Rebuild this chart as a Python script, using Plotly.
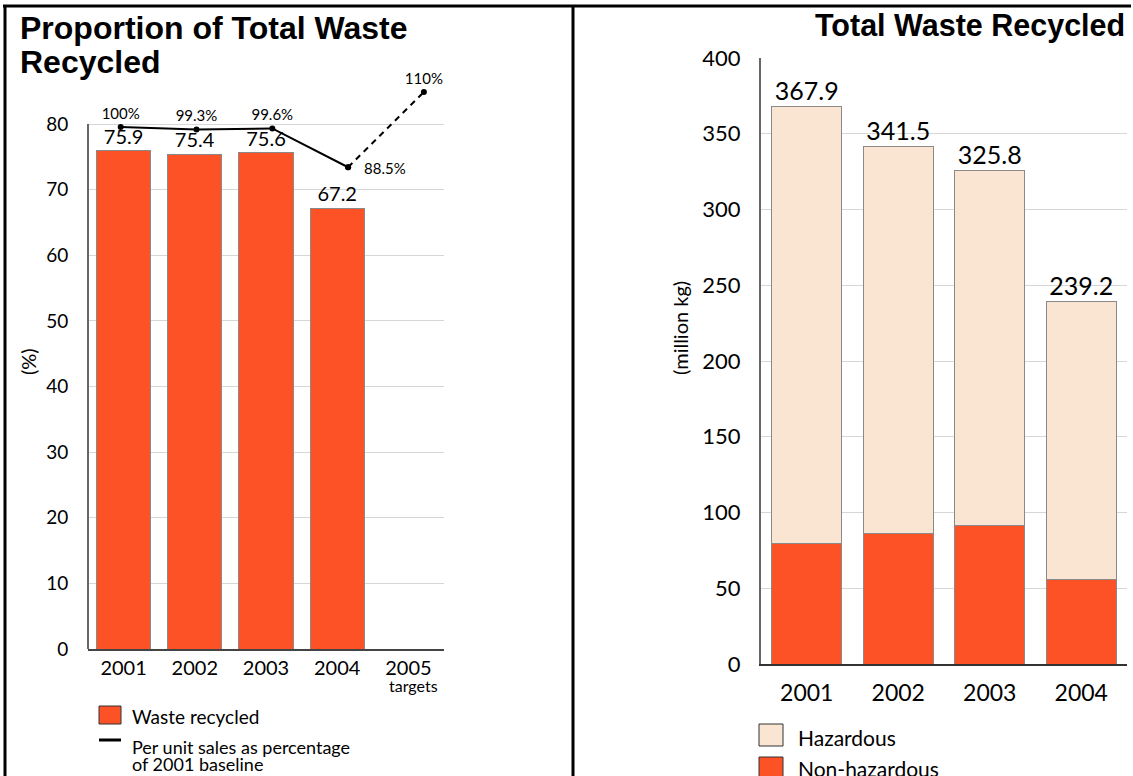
import plotly.graph_objects as go

W, H = 1133, 776

# ---------------- data ----------------
left_years = ["2001", "2002", "2003", "2004", "2005"]
waste_recycled_pct = [75.9, 75.4, 75.6, 67.2, None]
line_years = [2001, 2002, 2003, 2004, 2005]
per_unit_sales_pct = [100, 99.3, 99.6, 88.5, 110]
per_unit_labels = ["100%", "99.3%", "99.6%", "88.5%", "110%"]
target_note = "targets"

right_years = ["2001", "2002", "2003", "2004"]
non_hazardous = [79.7, 86.1, 91.3, 55.6]
hazardous = [288.2, 255.4, 234.5, 183.6]

# ---------------- style ----------------
ORANGE = "#FD5126"
PEACH = "#FAE5D3"
OUTLINE = "#8a8a8a"
GRID = "#d6d6d6"
FONT = "Lato"
TITLE_FONT = "Liberation Sans"


def px(x):
    return x / W


def py(y):
    return 1 - y / H


fig = go.Figure()

# ----- left chart -----
fig.add_trace(go.Bar(
    x=left_years, y=waste_recycled_pct, xaxis="x", yaxis="y",
    marker=dict(color=ORANGE, line=dict(color=OUTLINE, width=1)),
    text=[f"{v:.1f}" if v is not None else "" for v in waste_recycled_pct],
    textposition="outside", cliponaxis=False, constraintext="none",
    textfont=dict(family=FONT, size=20, color="black"),
    showlegend=False, hoverinfo="skip",
))

label_pos = ["top center", "top center", "top center", None, "top center"]
fig.add_trace(go.Scatter(
    x=line_years[:4], y=per_unit_sales_pct[:4], xaxis="x3", yaxis="y3",
    mode="lines+markers+text",
    line=dict(color="black", width=2),
    marker=dict(color="black", size=6),
    text=per_unit_labels[:3] + [""],
    textposition="top center",
    textfont=dict(family=FONT, size=15, color="black"),
    cliponaxis=False, showlegend=False, hoverinfo="skip",
))
fig.add_trace(go.Scatter(
    x=line_years[3:], y=per_unit_sales_pct[3:], xaxis="x3", yaxis="y3",
    mode="lines+markers+text",
    line=dict(color="black", width=2, dash="6px,5px"),
    marker=dict(color="black", size=6),
    text=["", per_unit_labels[4]],
    textposition="top center",
    textfont=dict(family=FONT, size=15, color="black"),
    cliponaxis=False, showlegend=False, hoverinfo="skip",
))

# ----- right chart -----
fig.add_trace(go.Bar(
    x=right_years, y=non_hazardous, xaxis="x2", yaxis="y2", name="Non-hazardous",
    marker=dict(color=ORANGE, line=dict(color=OUTLINE, width=1)),
    showlegend=False, hoverinfo="skip",
))
fig.add_trace(go.Bar(
    x=right_years, y=hazardous, xaxis="x2", yaxis="y2", name="Hazardous",
    marker=dict(color=PEACH, line=dict(color=OUTLINE, width=1)),
    showlegend=False, hoverinfo="skip",
))
totals = [a + b for a, b in zip(non_hazardous, hazardous)]
fig.add_trace(go.Scatter(
    x=right_years, y=totals, xaxis="x2", yaxis="y2", mode="text",
    text=[f"{t:.1f}" for t in totals], textposition="top center",
    textfont=dict(family=FONT, size=25, color="black"),
    cliponaxis=False, showlegend=False, hoverinfo="skip",
))

# ----- axes -----
L_X0, L_X1, L_Y0, L_YTOP = 88, 444, 649, 80
L_PPU = (649 - 124) / 80.0
R_X0, R_X1, R_Y0, R_Y1 = 761, 1127, 664, 58

l_ymax = (L_Y0 - L_YTOP) / L_PPU
# hidden axes for the line (its own scale)
line_ppu = 3.5
line_ref_px = 127
l3_ymin = 100 - (L_Y0 - line_ref_px) / line_ppu
l3_ymax = 100 + (line_ref_px - L_YTOP) / line_ppu
x_ppu = 75.8
x_ref_px = 120.7
l3_xmin = 2001 - (x_ref_px - L_X0) / x_ppu
l3_xmax = 2001 + (L_X1 - x_ref_px) / x_ppu

tickfont_l = dict(family=FONT, size=19, color="black")
tickfont_r = dict(family=FONT, size=22, color="black")

fig.update_layout(
    width=W, height=H,
    margin=dict(l=0, r=0, t=0, b=0, autoexpand=False),
    paper_bgcolor="white", plot_bgcolor="white",
    barmode="stack", bargap=0.24,
    font=dict(family=FONT, color="black"),
    xaxis=dict(domain=[px(L_X0), px(L_X1)], anchor="y", type="category",
               categoryorder="array", categoryarray=left_years,
               range=[-0.5, 4.5], showgrid=False, zeroline=False,
               showline=True, linecolor="#444", linewidth=2,
               ticks="", tickfont=dict(family=FONT, size=20, color="black"),
               fixedrange=True),
    yaxis=dict(domain=[py(L_Y0), py(L_YTOP)], anchor="x", range=[0, l_ymax],
               dtick=10, showgrid=True, gridcolor=GRID, gridwidth=1,
               zeroline=False, showline=False,
               ticks="outside", ticklen=15, tickcolor="rgba(0,0,0,0)",
               tickfont=tickfont_l, fixedrange=True),
    xaxis3=dict(overlaying="x", anchor="y", range=[l3_xmin, l3_xmax], visible=False),
    yaxis3=dict(overlaying="y", anchor="x", range=[l3_ymin, l3_ymax], visible=False),
    xaxis2=dict(domain=[px(R_X0), px(R_X1)], anchor="y2", type="category",
                categoryorder="array", categoryarray=right_years,
                range=[-0.5, 3.5], showgrid=False, zeroline=False,
                showline=True, linecolor="#333", linewidth=2,
                ticks="outside", ticklen=7, tickcolor="rgba(0,0,0,0)",
                tickfont=dict(family=FONT, size=23, color="black"), fixedrange=True),
    yaxis2=dict(domain=[py(R_Y0), py(R_Y1)], anchor="x2", range=[0, 400],
                dtick=50, showgrid=True, gridcolor=GRID, gridwidth=1,
                zeroline=False, showline=True, linecolor="#666", linewidth=2,
                ticks="outside", ticklen=14, tickcolor="rgba(0,0,0,0)",
                tickfont=tickfont_r, fixedrange=True),
)

shapes = []
# left y axis line (only up to 80)
shapes.append(dict(type="line", xref="x domain", yref="y", x0=0, x1=0, y0=0, y1=80,
                   line=dict(color="#666", width=2)))
# frame lines
shapes.append(dict(type="line", xref="paper", yref="paper", x0=px(3), x1=px(1131),
                   y0=py(6), y1=py(6), line=dict(color="black", width=3)))
shapes.append(dict(type="line", xref="paper", yref="paper", x0=px(5), x1=px(5),
                   y0=py(6), y1=py(780), line=dict(color="black", width=3)))
shapes.append(dict(type="line", xref="paper", yref="paper", x0=px(573), x1=px(573),
                   y0=py(6), y1=py(780), line=dict(color="black", width=3)))
# legend swatches (left)
shapes.append(dict(type="rect", xref="paper", yref="paper", x0=px(99), x1=px(121),
                   y0=py(724), y1=py(706), fillcolor=ORANGE,
                   line=dict(color="#333", width=1)))
shapes.append(dict(type="line", xref="paper", yref="paper", x0=px(99), x1=px(121),
                   y0=py(740), y1=py(740), line=dict(color="black", width=3)))
# legend swatches (right)
shapes.append(dict(type="rect", xref="paper", yref="paper", x0=px(759), x1=px(783),
                   y0=py(746), y1=py(724), fillcolor=PEACH,
                   line=dict(color="#333", width=1)))
shapes.append(dict(type="rect", xref="paper", yref="paper", x0=px(759), x1=px(783),
                   y0=py(779), y1=py(757), fillcolor=ORANGE,
                   line=dict(color="#333", width=1)))
fig.update_layout(shapes=shapes)

ann = []
def text(x, y, s, size, xanchor="left", yanchor="middle", family=FONT, angle=0, bold=False):
    ann.append(dict(xref="paper", yref="paper", x=px(x), y=py(y), text=s,
                    showarrow=False, xanchor=xanchor, yanchor=yanchor,
                    textangle=angle,
                    font=dict(family=family, size=size, color="black",
                              weight="bold" if bold else "normal")))

# label of the 2004 point, to the right of its marker
ann.append(dict(xref="x3", yref="y3", x=line_years[3], y=per_unit_sales_pct[3],
                text=per_unit_labels[3], showarrow=False, xanchor="left",
                yanchor="middle", xshift=14, yshift=-1,
                font=dict(family=FONT, size=15, color="black")))

text(18, 28, "Proportion of Total Waste", 32, family=TITLE_FONT, bold=True)
text(18, 62, "Recycled", 32, family=TITLE_FONT, bold=True)
text(1127, 26, "Total Waste Recycled", 30.5, xanchor="right", family=TITLE_FONT, bold=True)
text(28, 362, "(%)", 20, xanchor="center", angle=-90)
text(680, 328, "(million kg)", 20, xanchor="center", angle=-90)
ann.append(dict(xref="x", yref="paper", x=4, y=py(685), text=target_note,
                showarrow=False, xanchor="center", yanchor="middle", xshift=5,
                font=dict(family=FONT, size=16, color="black")))
text(130, 716, "Waste recycled", 19)
text(130, 747, "Per unit sales as percentage", 18)
text(130, 764, "of 2001 baseline", 18)
text(796, 737, "Hazardous", 21)
text(796, 768, "Non-hazardous", 21)
fig.update_layout(annotations=ann)

fig.write_html("out.html", config={"displayModeBar": False},
               post_script="document.body.style.margin='0px';document.body.style.overflow='hidden';")
